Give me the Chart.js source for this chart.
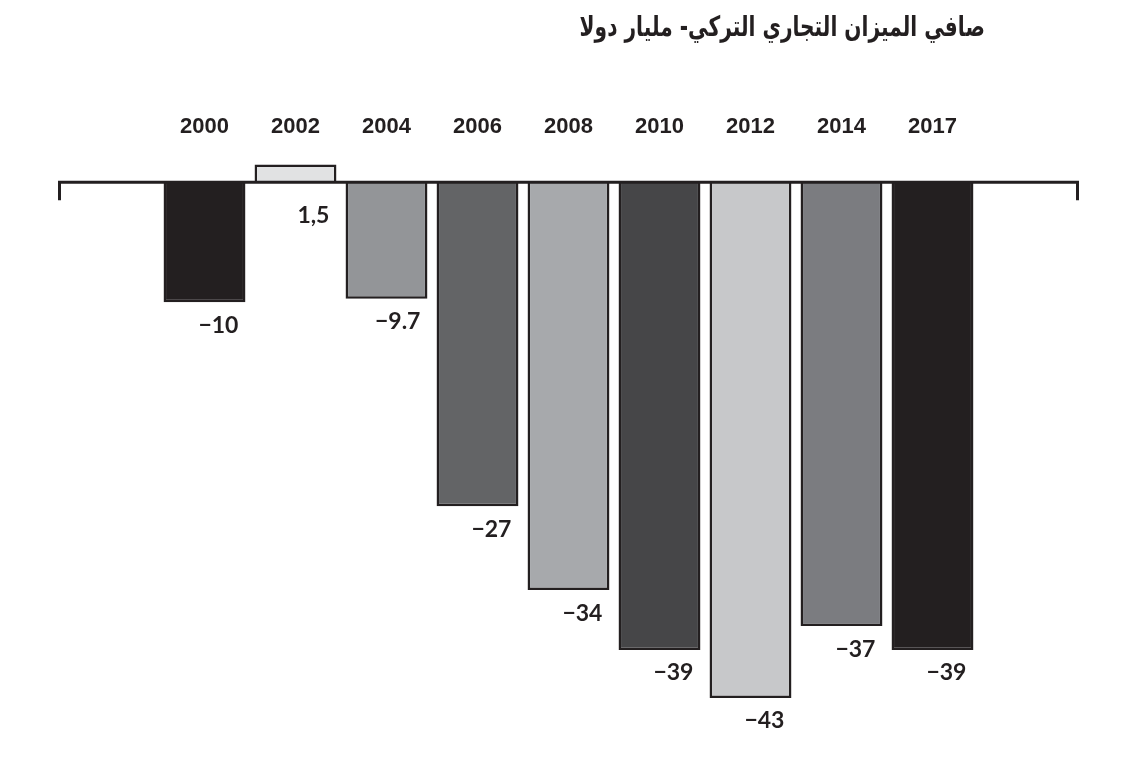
<!DOCTYPE html>
<html>
<head>
<meta charset="utf-8">
<script src="https://cdn.jsdelivr.net/npm/chart.js@4"></script>
<style>
  body { margin: 0; background: #fff; }
  #wrap { position: relative; width: 1147px; height: 771px; }
  #title {
    position: absolute; right: 162px; top: 10px;
    font-family: 'DejaVu Sans', sans-serif; font-weight: bold; font-size: 28px;
    color: #231f20; direction: rtl; white-space: nowrap;
    transform: scaleX(0.72); transform-origin: right center;
  }
</style>
</head>
<body>
<div id="wrap">
  <div id="title">صافي الميزان التجاري التركي- مليار دولا</div>
  <canvas id="myChart"></canvas>
</div>
<script>
var years = ['2000', '2002', '2004', '2006', '2008', '2010', '2012', '2014', '2017'];
var balance = [-10, 1.5, -9.7, -27, -34, -39, -43, -37, -39];
var valueText = ['\u221210', '1,5', '\u22129.7', '\u221227', '\u221234', '\u221239', '\u221243', '\u221237', '\u221239'];
var barColors = ['#231f20', '#e1e2e3', '#939598', '#636466', '#a7a9ac', '#464648', '#c7c8ca', '#7b7c80', '#231f20'];

var ink = '#231f20';

// zero line with end ticks, and the value under each bar
var barDecor = {
    id: 'barDecor',
    afterDatasetsDraw: function (chart) {
        var ctx = chart.ctx;
        var area = chart.chartArea;
        var y0 = chart.scales.y.getPixelForValue(0);
        ctx.save();
        ctx.strokeStyle = ink;
        ctx.lineWidth = 3;
        ctx.beginPath();
        ctx.moveTo(area.left + 1.5, y0 + 18);
        ctx.lineTo(area.left + 1.5, y0);
        ctx.lineTo(area.right - 1.5, y0);
        ctx.lineTo(area.right - 1.5, y0 + 18);
        ctx.stroke();

        ctx.fillStyle = ink;
        ctx.font = 'bold 23px Lato, sans-serif';
        ctx.textAlign = 'right';
        ctx.textBaseline = 'middle';
        chart.getDatasetMeta(0).data.forEach(function (bar, i) {
            var right = bar.x + bar.width / 2 - 7;
            var y = balance[i] < 0 ? bar.y + 23 : y0 + 33;
            ctx.fillText(valueText[i], right, y);
        });
        ctx.restore();
    }
};

var chartData = {
    datasets: [{
        data: balance.map(function (v, i) { return { x: i, y: v }; }),
        backgroundColor: barColors,
        borderColor: ink,
        borderWidth: 2.5,
        barPercentage: 0.9,
        categoryPercentage: 1
    }]
};

var chartOptions = {
    responsive: true,
    maintainAspectRatio: false,
    animation: false,
    layout: {
        padding: { left: 58, right: 68, top: 114, bottom: 13 }
    },
    plugins: {
        legend: { display: false },
        tooltip: { enabled: false }
    },
    scales: {
        x: {
            type: 'linear',
            position: 'top',
            offset: false,
            min: -1.61,
            max: 9.61,
            grid: { display: false, drawTicks: false },
            border: { display: false },
            ticks: {
                stepSize: 1,
                autoSkip: false,
                maxRotation: 0,
                padding: 0,
                color: ink,
                font: { family: "'Liberation Sans', Arial, sans-serif", size: 22, weight: 'bold' },
                callback: function (v) {
                    return Number.isInteger(v) && years[v] ? years[v] : '';
                }
            }
        },
        y: {
            display: false,
            min: -48,
            max: 3.5
        }
    }
};

var chart = new Chart(document.getElementById('myChart'), {
    type: 'bar',
    data: chartData,
    options: chartOptions,
    plugins: [barDecor]
});
</script>
</body>
</html>
